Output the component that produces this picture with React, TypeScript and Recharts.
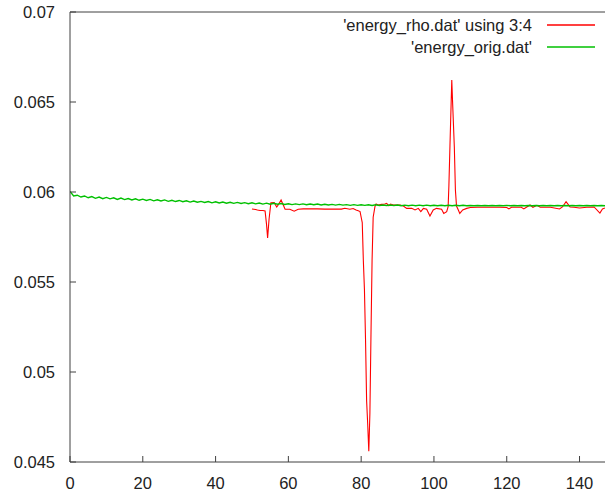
import { LineChart, Line, XAxis, YAxis, Legend } from 'recharts';

// 'energy_orig.dat' sampled at x = 0, 1, 2 ... 147
const origValues = [
  0.06003, 0.05978, 0.05982, 0.05972, 0.05978, 0.05968, 0.05975, 0.05965, 0.05972, 0.05963,
  0.0597, 0.05962, 0.05968, 0.05959, 0.05966, 0.05958, 0.05964, 0.05956, 0.05962, 0.05954,
  0.0596, 0.05953, 0.05959, 0.05951, 0.05957, 0.0595, 0.05956, 0.05948, 0.05954, 0.05947,
  0.05953, 0.05946, 0.05951, 0.05944, 0.0595, 0.05943, 0.05948, 0.05942, 0.05947, 0.0594,
  0.05946, 0.05939, 0.05944, 0.05938, 0.05943, 0.05937, 0.05942, 0.05936, 0.05941, 0.05935,
  0.0594, 0.05934, 0.05939, 0.05933, 0.05938, 0.05932, 0.05937, 0.05932, 0.05936, 0.05931,
  0.05935, 0.0593, 0.05934, 0.0593, 0.05934, 0.05929, 0.05933, 0.05929, 0.05933, 0.05928,
  0.05932, 0.05928, 0.05931, 0.05927, 0.05931, 0.05927, 0.0593, 0.05926, 0.0593, 0.05926,
  0.05929, 0.05926, 0.05929, 0.05925, 0.05929, 0.05925, 0.05928, 0.05925, 0.05928, 0.05925,
  0.05928, 0.05924, 0.05927, 0.05924, 0.05927, 0.05924, 0.05927, 0.05924, 0.05927, 0.05924,
  0.05926, 0.05924, 0.05926, 0.05924, 0.05926, 0.05924, 0.05926, 0.05924, 0.05926, 0.05924,
  0.05925, 0.05924, 0.05925, 0.05924, 0.05925, 0.05924, 0.05925, 0.05924, 0.05925, 0.05924,
  0.05925, 0.05924, 0.05925, 0.05924, 0.05925, 0.05924, 0.05925, 0.05924, 0.05925, 0.05924,
  0.05925, 0.05924, 0.05925, 0.05924, 0.05925, 0.05924, 0.05925, 0.05924, 0.05925, 0.05924,
  0.05925, 0.05924, 0.05925, 0.05924, 0.05925, 0.05924, 0.05925, 0.05924,
];

// 'energy_rho.dat' using 3:4
const rhoX = [
  50, 51, 51.5, 52.2, 53, 53.6, 54, 54.3, 54.7, 55.2, 56.1, 56.8, 57.2, 58, 58.6, 59.1, 60.4,
  61.6, 62.7, 64.1, 66, 68, 70, 72, 74.6, 75.5, 76.9, 77.8, 78.6, 79.2, 79.7, 80.1, 80.3, 80.6,
  80.9, 81.2, 81.5, 81.8, 82.1, 82.4, 82.7, 83, 83.3, 83.8, 84.1, 84.7, 85.6, 86.5, 87, 87.6,
  88.1, 88.8, 89.3, 90.7, 91.6, 92.5, 93.9, 94.8, 95.7, 96.4, 97.1, 98, 98.9, 99.8, 100.7,
  102.1, 102.7, 103.5, 103.9, 104.1, 104.4, 104.9, 105.1, 105.6, 105.9, 106.2, 106.7, 107.1,
  107.9, 109, 110, 112, 115, 118, 120, 120.6, 121.3, 124, 124.7, 125.4, 126.4, 127.2, 128.3,
  129.2, 132, 134.5, 135.3, 136.3, 137.4, 138.5, 140, 142, 144, 145.6, 146.3, 147,
];
const rhoY = [
  0.05906, 0.05903, 0.059, 0.05897, 0.05897, 0.05895, 0.0582, 0.05745, 0.0585, 0.0594, 0.05941,
  0.05917, 0.05928, 0.05956, 0.05928, 0.05904, 0.05904, 0.05893, 0.05904, 0.05906, 0.05906,
  0.05906, 0.05905, 0.05905, 0.05905, 0.0591, 0.05904, 0.05908, 0.059, 0.05896, 0.05891,
  0.0585, 0.0583, 0.0562, 0.0546, 0.0518, 0.0484, 0.0471, 0.0456, 0.0477, 0.0521, 0.0562,
  0.0586, 0.0592, 0.05933, 0.05928, 0.05931, 0.05933, 0.05937, 0.05924, 0.05933, 0.05928,
  0.05928, 0.05928, 0.05922, 0.05909, 0.05909, 0.059, 0.05909, 0.05891, 0.05909, 0.05904,
  0.05867, 0.059, 0.05909, 0.05904, 0.05881, 0.05891, 0.05919, 0.0603, 0.06256, 0.06622,
  0.06511, 0.0625, 0.0601, 0.05922, 0.059, 0.05881, 0.059, 0.05909, 0.05914, 0.05915,
  0.05915, 0.05915, 0.05914, 0.05906, 0.05915, 0.05915, 0.05906, 0.05915, 0.05928, 0.05915,
  0.05926, 0.05915, 0.05915, 0.05906, 0.05917, 0.05946, 0.05917, 0.05915, 0.05911, 0.05915,
  0.05917, 0.05883, 0.05906, 0.05911,
];

const xTicks = [0, 20, 40, 60, 80, 100, 120, 140];
const yTicks = [0.045, 0.05, 0.055, 0.06, 0.065, 0.07];

const seriesNames = ["'energy_rho.dat' using 3:4", "'energy_orig.dat'"];
const seriesColors = ['#ff0000', '#00c000'];

const rhoData = rhoX.map((x, i) => ({ x, y: rhoY[i] }));
const origData = origValues.map((y, x) => ({ x, y }));

const FONT = '"Liberation Sans", Arial, sans-serif';
const AXIS = '#404040';

// gnuplot-style key, text right aligned with the sample line after it
const renderLegend = () => (
  <div style={{ position: 'relative', width: 605, height: 60, fontFamily: FONT, fontSize: 16.5, color: '#222' }}>
    {seriesNames.map((name, i) => (
      <div
        key={name}
        style={{
          position: 'absolute',
          right: 10,
          top: 15 + i * 22,
          height: 20,
          display: 'flex',
          alignItems: 'center',
          whiteSpace: 'nowrap',
        }}
      >
        <span>{name}</span>
        <svg width={48} height={4} style={{ marginLeft: 15 }}>
          <line x1={0} y1={2} x2={48} y2={2} stroke={seriesColors[i]} strokeWidth={1.3} />
        </svg>
      </div>
    ))}
  </div>
);

export default function App() {
  return (
    <div style={{ position: 'absolute', left: 0, top: 0, background: '#fff' }}>
      <LineChart width={605} height={493} margin={{ top: 0, right: 0, bottom: 0, left: 0 }}>
        <XAxis
          xAxisId="bottom"
          dataKey="x"
          type="number"
          domain={[0, 147]}
          ticks={xTicks}
          allowDataOverflow
          height={31}
          tickSize={-6}
          tickMargin={21}
          axisLine={{ stroke: AXIS }}
          tickLine={{ stroke: AXIS }}
          tick={{ fill: '#222', fontSize: 16.5, fontFamily: FONT }}
        />
        <XAxis
          xAxisId="top"
          orientation="top"
          dataKey="x"
          type="number"
          domain={[0, 147]}
          ticks={xTicks}
          allowDataOverflow
          height={12}
          tickSize={-6}
          tick={false}
          axisLine={{ stroke: AXIS }}
          tickLine={{ stroke: AXIS }}
        />
        <YAxis
          type="number"
          domain={[0.045, 0.07]}
          ticks={yTicks}
          allowDataOverflow
          width={70}
          tickSize={-6}
          tickMargin={21}
          axisLine={{ stroke: AXIS }}
          tickLine={{ stroke: AXIS }}
          tick={{ fill: '#222', fontSize: 16.5, fontFamily: FONT }}
        />
        <Legend
          content={renderLegend}
          layout="horizontal"
          align="center"
          verticalAlign="middle"
          wrapperStyle={{ position: 'absolute', left: 0, top: 0, width: 605 }}
        />
        <Line
          xAxisId="bottom"
          data={rhoData}
          dataKey="y"
          name={seriesNames[0]}
          type="linear"
          stroke={seriesColors[0]}
          strokeWidth={1.1}
          dot={false}
          isAnimationActive={false}
        />
        <Line
          xAxisId="bottom"
          data={origData}
          dataKey="y"
          name={seriesNames[1]}
          type="linear"
          stroke={seriesColors[1]}
          strokeWidth={1.4}
          dot={false}
          isAnimationActive={false}
        />
      </LineChart>
    </div>
  );
}
